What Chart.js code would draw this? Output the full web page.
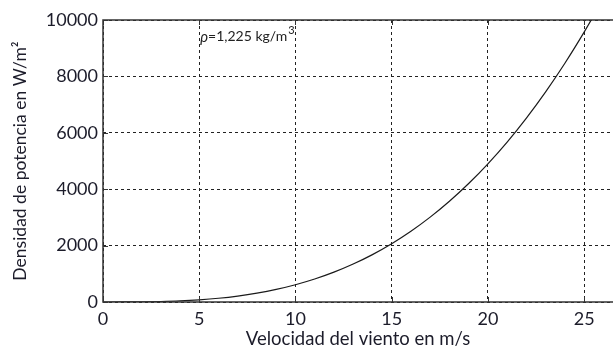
<!DOCTYPE html>
<html>
<head>
<meta charset="utf-8">
<script src="https://cdn.jsdelivr.net/npm/chart.js@4"></script>
<style>
    html, body { margin: 0; padding: 0; background: #fff; }
    .chart-wrap { width: 613px; height: 350px; }
</style>
</head>
<body>
<div class="chart-wrap">
    <canvas id="Canvas" width="613" height="350"></canvas>
</div>
<script>
// wind speed (m/s) and power density (W/m^2)
const speeds = [0, 1, 2, 3, 4, 5, 6, 7, 8, 9, 10, 11, 12, 13, 14, 15, 16, 17, 18, 19, 20, 21, 22, 23, 24, 25, 25.5, 26];
const density = [0, 1, 5, 17, 39, 77, 132, 210, 314, 447, 613, 815, 1058, 1346, 1681, 2067, 2509, 3009, 3572, 4201, 4900, 5672, 6522, 7452, 8467, 9570, 10160, 10770];
const xTicks = [0, 5, 10, 15, 20, 25];
const yTicks = [0, 2000, 4000, 6000, 8000, 10000];
const note = ['\u03C1', '=1,225 kg/m', '3'];

const frame = {
    id: 'frame',
    afterDraw(chart) {
        const { ctx, chartArea: a, scales } = chart;
        ctx.save();
        ctx.strokeStyle = '#333';
        ctx.lineWidth = 1.5;
        ctx.beginPath();
        ctx.moveTo(a.right + 2, a.top);
        ctx.lineTo(a.left, a.top);
        ctx.lineTo(a.left, a.bottom);
        ctx.lineTo(a.right + 2, a.bottom);
        ctx.stroke();
        // small inward tick marks
        ctx.lineWidth = 1;
        ctx.beginPath();
        xTicks.forEach(v => {
            const x = Math.round(scales.x.getPixelForValue(v)) + 0.5;
            ctx.moveTo(x, a.bottom); ctx.lineTo(x, a.bottom - 5);
            ctx.moveTo(x, a.top); ctx.lineTo(x, a.top + 5);
        });
        yTicks.forEach(v => {
            const y = Math.round(scales.y.getPixelForValue(v)) + 0.5;
            ctx.moveTo(a.left, y); ctx.lineTo(a.left + 5, y);
        });
        ctx.stroke();
        // density note
        const nx = scales.x.getPixelForValue(5) + 1;
        const ny = scales.y.getPixelForValue(9400);
        ctx.fillStyle = '#222';
        ctx.textBaseline = 'middle';
        ctx.font = 'italic 15px Lato';
        ctx.fillText(note[0], nx, ny);
        let w = ctx.measureText(note[0]).width;
        ctx.font = '14px Lato';
        ctx.fillText(note[1], nx + w, ny);
        w += ctx.measureText(note[1]).width;
        ctx.font = '11px Lato';
        ctx.fillText(note[2], nx + w + 1, ny - 6);
        ctx.restore();
    }
};

const ctx = document.getElementById('Canvas').getContext('2d');
new Chart(ctx, {
    type: 'line',
    data: {
        datasets: [{
            data: speeds.map((v, i) => ({ x: v, y: density[i] })),
            borderColor: '#1a1a1a',
            borderWidth: 1.2,
            pointRadius: 0,
            fill: false,
            cubicInterpolationMode: 'monotone'
        }]
    },
    options: {
        responsive: false,
        animation: false,
        layout: { padding: { top: 20, right: 0, left: 0, bottom: 0 } },
        plugins: { legend: { display: false }, tooltip: { enabled: false } },
        scales: {
            x: {
                type: 'linear',
                min: 0,
                max: 26.5,
                afterBuildTicks: s => { s.ticks = xTicks.map(v => ({ value: v })); },
                afterFit: s => { s.height = 48; },
                grid: { color: '#222', lineWidth: 1, drawTicks: false },
                border: { display: false, dash: [3, 3] },
                ticks: { color: '#1c1c2a', font: { family: 'Lato', size: 18 }, padding: 6, maxRotation: 0,
                    callback: v => String(v) },
                title: {
                    display: true,
                    text: 'Velocidad del viento en m/s',
                    color: '#1c1c2a',
                    font: { family: 'Lato', size: 18.5 },
                    padding: { top: 0, bottom: 0 }
                }
            },
            y: {
                min: 0,
                max: 10000,
                afterBuildTicks: s => { s.ticks = yTicks.map(v => ({ value: v })); },
                afterFit: s => { s.width = 103; },
                grid: { color: '#222', lineWidth: 1, drawTicks: false },
                border: { display: false, dash: [3, 3] },
                ticks: { color: '#1c1c2a', font: { family: 'Lato', size: 18 }, padding: 5,
                    callback: v => String(v) },
                title: {
                    display: true,
                    text: 'Densidad de potencia en W/m\u00B2',
                    color: '#1c1c2a',
                    font: { family: 'Lato', size: 17.5 },
                    padding: { top: 10, bottom: 0 }
                }
            }
        }
    },
    plugins: [frame]
});
</script>
</body>
</html>
